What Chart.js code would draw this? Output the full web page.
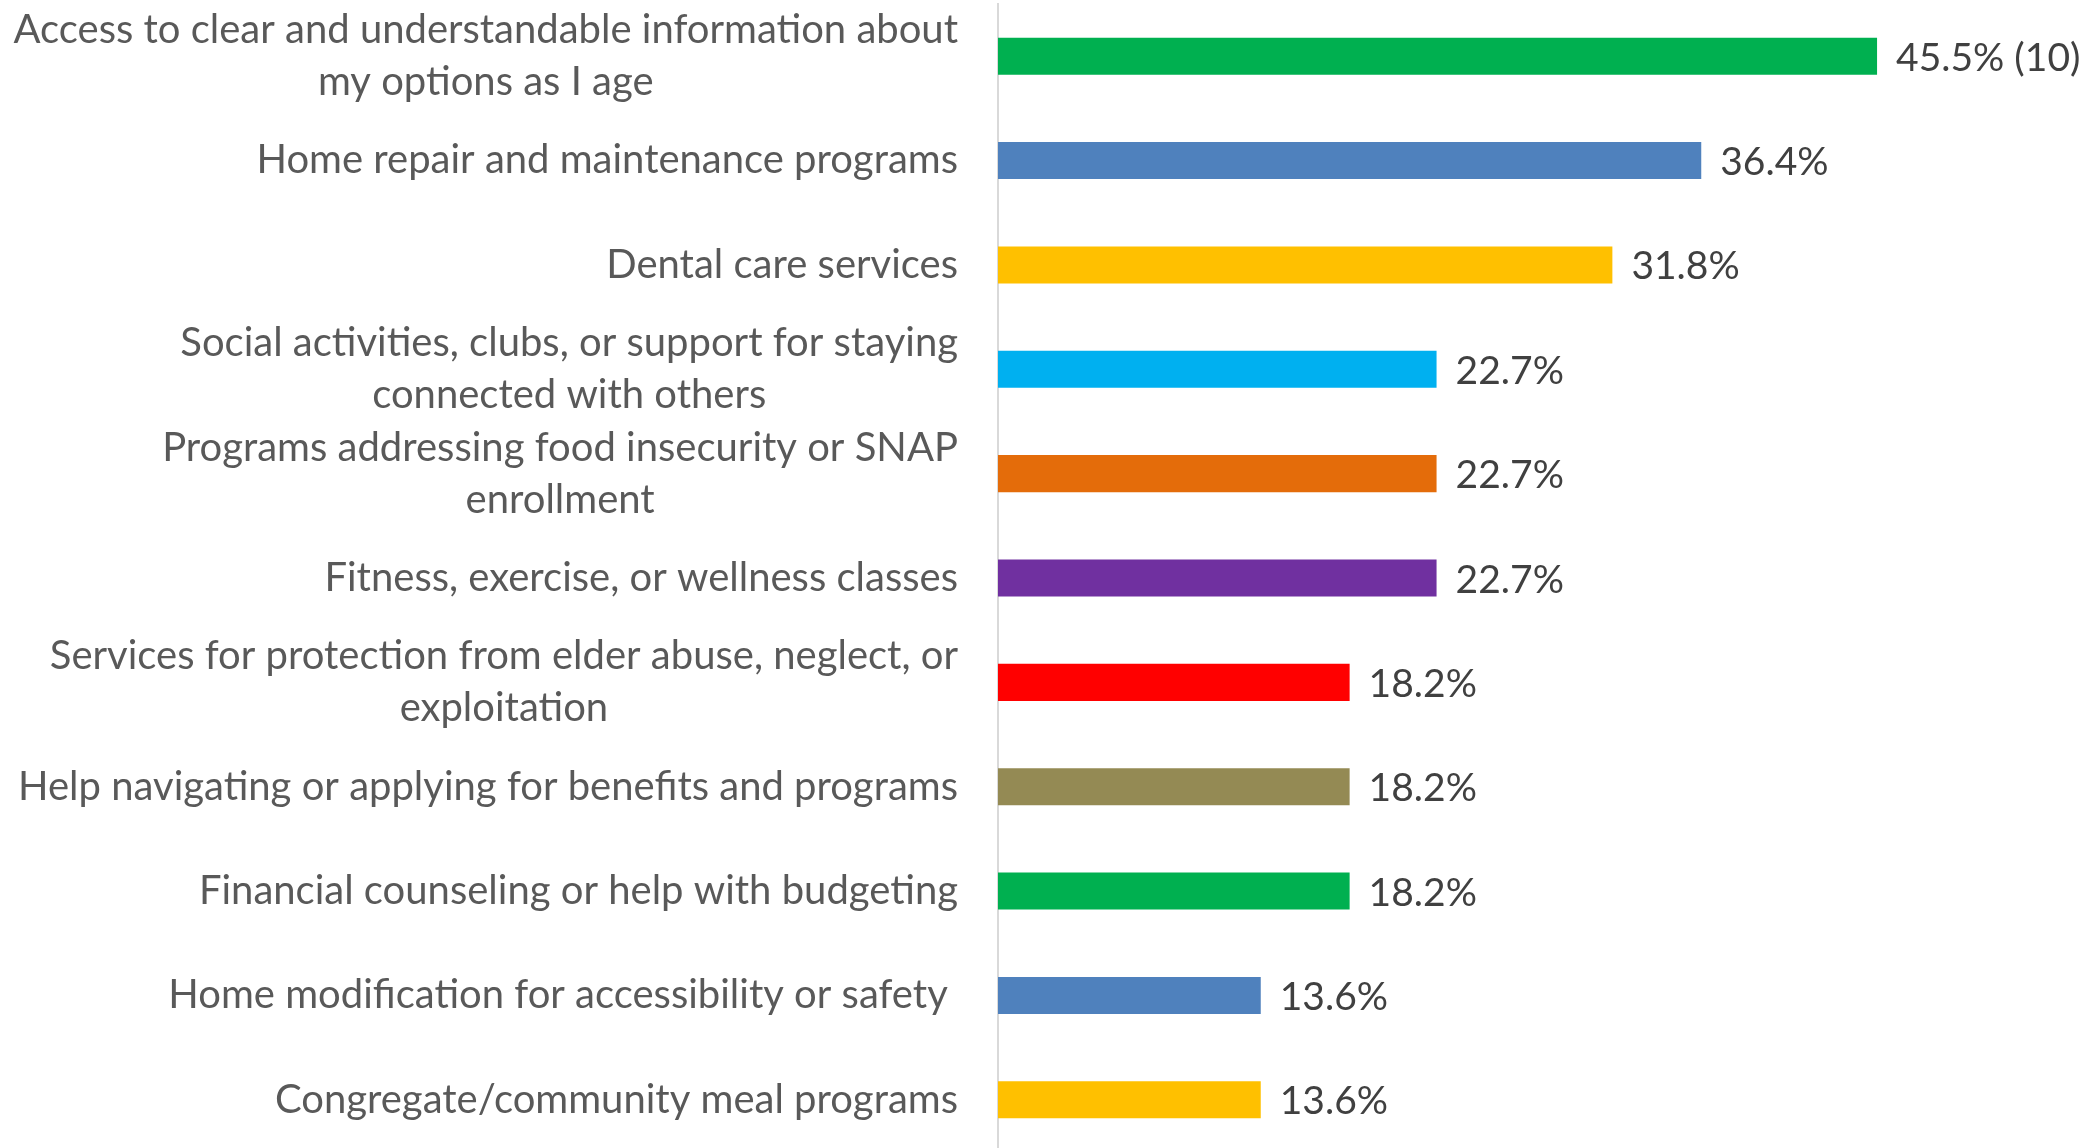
<!DOCTYPE html>
<html>
<head>
<meta charset="utf-8">
<script src="https://cdn.jsdelivr.net/npm/chart.js@4.4.1/dist/chart.umd.min.js"></script>
<style>
  html, body { margin: 0; padding: 0; background: #fff; overflow: hidden; }
  #wrap { position: relative; width: 2088px; height: 1152px; }
</style>
</head>
<body>
<div id="wrap"><canvas id="chart"></canvas></div>
<script>
const categories = [
    ["Access to clear and understandable information about", "my options as I age"],
    ["Home repair and maintenance programs"],
    ["Dental care services"],
    ["Social activities, clubs, or support for staying", "connected with others"],
    ["Programs addressing food insecurity or SNAP", "enrollment"],
    ["Fitness, exercise, or wellness classes"],
    ["Services for protection from elder abuse, neglect, or", "exploitation"],
    ["Help navigating or applying for benefits and programs"],
    ["Financial counseling or help with budgeting"],
    ["Home modification for accessibility or safety "],
    ["Congregate/community meal programs"]
];
const values = [45.5, 36.4, 31.8, 22.7, 22.7, 22.7, 18.2, 18.2, 18.2, 13.6, 13.6];
const valueLabels = ["45.5% (10)", "36.4%", "31.8%", "22.7%", "22.7%", "22.7%", "18.2%", "18.2%", "18.2%", "13.6%", "13.6%"];
const barColors = ["#00B050", "#4F81BD", "#FFC000", "#00B0F0", "#E46C0A", "#7030A0", "#FF0000", "#948A54", "#00B050", "#4F81BD", "#FFC000"];

const labelFont = "40px Lato";
const valueFont = "39px Lato";

// draws wrapped category labels (lines centred on each other, block right aligned)
// and the value labels next to the bars
const textPlugin = {
    id: "textPlugin",
    afterDatasetsDraw(chart) {
        const ctx = chart.ctx;
        const yScale = chart.scales.y;
        const meta = chart.getDatasetMeta(0);
        const rightEdge = chart.chartArea.left - 40;
        const lineHeight = 52;
        ctx.save();
        ctx.font = labelFont;
        ctx.textBaseline = "middle";
        categories.forEach((lines, i) => {
            const yc = yScale.getPixelForValue(i);
            const widest = Math.max(...lines.map(l => ctx.measureText(l).width));
            const cx = rightEdge - widest / 2;
            ctx.fillStyle = "#595959";
            ctx.textAlign = "center";
            lines.forEach((line, j) => {
                const y = yc + (j - (lines.length - 1) / 2) * lineHeight;
                ctx.fillText(line, cx, y);
            });
        });
        ctx.font = valueFont;
        ctx.fillStyle = "#404040";
        ctx.textAlign = "left";
        meta.data.forEach((bar, i) => {
            ctx.fillText(valueLabels[i], bar.x + 19, bar.y + 2);
        });
        ctx.restore();
    }
};

new Chart(document.getElementById("chart").getContext("2d"), {
    type: "bar",
    data: {
        labels: categories,
        datasets: [{
            data: values,
            backgroundColor: barColors,
            categoryPercentage: 1,
            barPercentage: 0.355
        }]
    },
    options: {
        indexAxis: "y",
        responsive: true,
        maintainAspectRatio: false,
        animation: false,
        layout: { padding: { top: 4, right: 124, bottom: 0, left: 0 } },
        plugins: {
            legend: { display: false },
            tooltip: { enabled: false }
        },
        scales: {
            x: {
                display: false,
                min: 0,
                max: 50
            },
            y: {
                ticks: { display: false },
                grid: { display: false },
                border: { display: true, color: "#D9D9D9", width: 2 },
                afterFit(scale) {
                    scale.width = 998;
                }
            }
        }
    },
    plugins: [textPlugin]
});
</script>
</body>
</html>
